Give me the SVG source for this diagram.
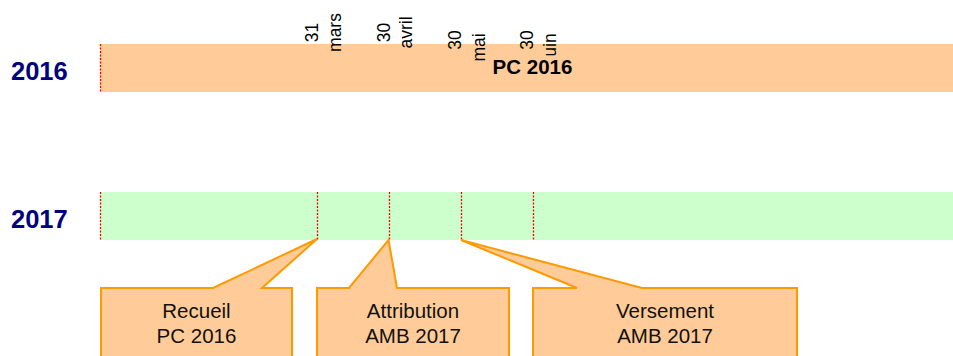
<svg xmlns="http://www.w3.org/2000/svg" width="953" height="356" viewBox="0 0 953 356">
<style>
.year{font-family:"Liberation Sans",Arial,sans-serif;font-weight:bold;font-size:25.5px;fill:#000080}
.lbl{font-family:"Liberation Sans",Arial,sans-serif;font-size:17.5px;fill:#000;text-anchor:middle}
.bold{font-family:"Liberation Sans",Arial,sans-serif;font-weight:bold;font-size:20.5px;fill:#000;text-anchor:middle}
.co{fill:#FFCC99;stroke:#FF9900;stroke-width:2;stroke-linejoin:miter}
.cot{font-family:"Liberation Sans",Arial,sans-serif;font-size:20.5px;fill:#111;text-anchor:middle}
.tick{stroke:#FF0000;stroke-width:1.3;stroke-dasharray:2 1.5;fill:none}
</style>
<rect width="953" height="356" fill="#FFFFFF"/>
<g id="row-2016">
  <text class="year" x="11" y="80">2016</text>
  <rect x="100" y="44" width="853" height="48" fill="#FFCC99"/>
</g>
<g id="row-2017">
  <text class="year" x="11" y="228">2017</text>
  <rect x="100" y="192" width="853" height="48" fill="#CCFFCC"/>
</g>
<g id="month-labels">
  <text class="lbl" transform="translate(317.5,32.5) rotate(-90)">31</text>
  <text class="lbl" transform="translate(341,32.5) rotate(-90)">mars</text>
  <text class="lbl" transform="translate(389.5,32.5) rotate(-90)">30</text>
  <text class="lbl" transform="translate(411.5,32.5) rotate(-90)">avril</text>
  <text class="lbl" transform="translate(461,40) rotate(-90)">30</text>
  <text class="lbl" transform="translate(484.5,47.5) rotate(-90)">mai</text>
  <text class="lbl" transform="translate(533,40) rotate(-90)">30</text>
  <text class="lbl" transform="translate(556,47) rotate(-90)">juin</text>
</g>
<g id="pc2016-label">
  <rect x="488" y="55.5" width="90" height="24" fill="#FFCC99"/>
  <text class="bold" x="532.5" y="74">PC 2016</text>
</g>
<g id="connectors">
  <line class="tick" x1="100.5" y1="44" x2="100.5" y2="92"/>
  <line class="tick" x1="100.5" y1="192" x2="100.5" y2="240"/>
  <line class="tick" x1="317.5" y1="192" x2="317.5" y2="240"/>
  <line class="tick" x1="389.5" y1="192" x2="389.5" y2="240"/>
  <line class="tick" x1="461.5" y1="192" x2="461.5" y2="240"/>
  <line class="tick" x1="533.5" y1="192" x2="533.5" y2="240"/>
</g>
<g id="callout-recueil">
  <path class="co" d="M101,288 L213,288 L317,239 L262,288 L292,288 L292,370 L101,370 Z"/>
  <text class="cot" x="196.5" y="318">Recueil</text>
  <text class="cot" x="196.5" y="342.5">PC 2016</text>
</g>
<g id="callout-attribution">
  <path class="co" d="M317,288 L349,288 L388.5,240 L397,288 L509,288 L509,370 L317,370 Z"/>
  <text class="cot" x="413" y="318">Attribution</text>
  <text class="cot" x="413" y="342.5">AMB 2017</text>
</g>
<g id="callout-versement">
  <path class="co" d="M533,288 L577,288 L461,240 L642,288 L797,288 L797,370 L533,370 Z"/>
  <text class="cot" x="665" y="318">Versement</text>
  <text class="cot" x="665" y="342.5">AMB 2017</text>
</g>
</svg>
